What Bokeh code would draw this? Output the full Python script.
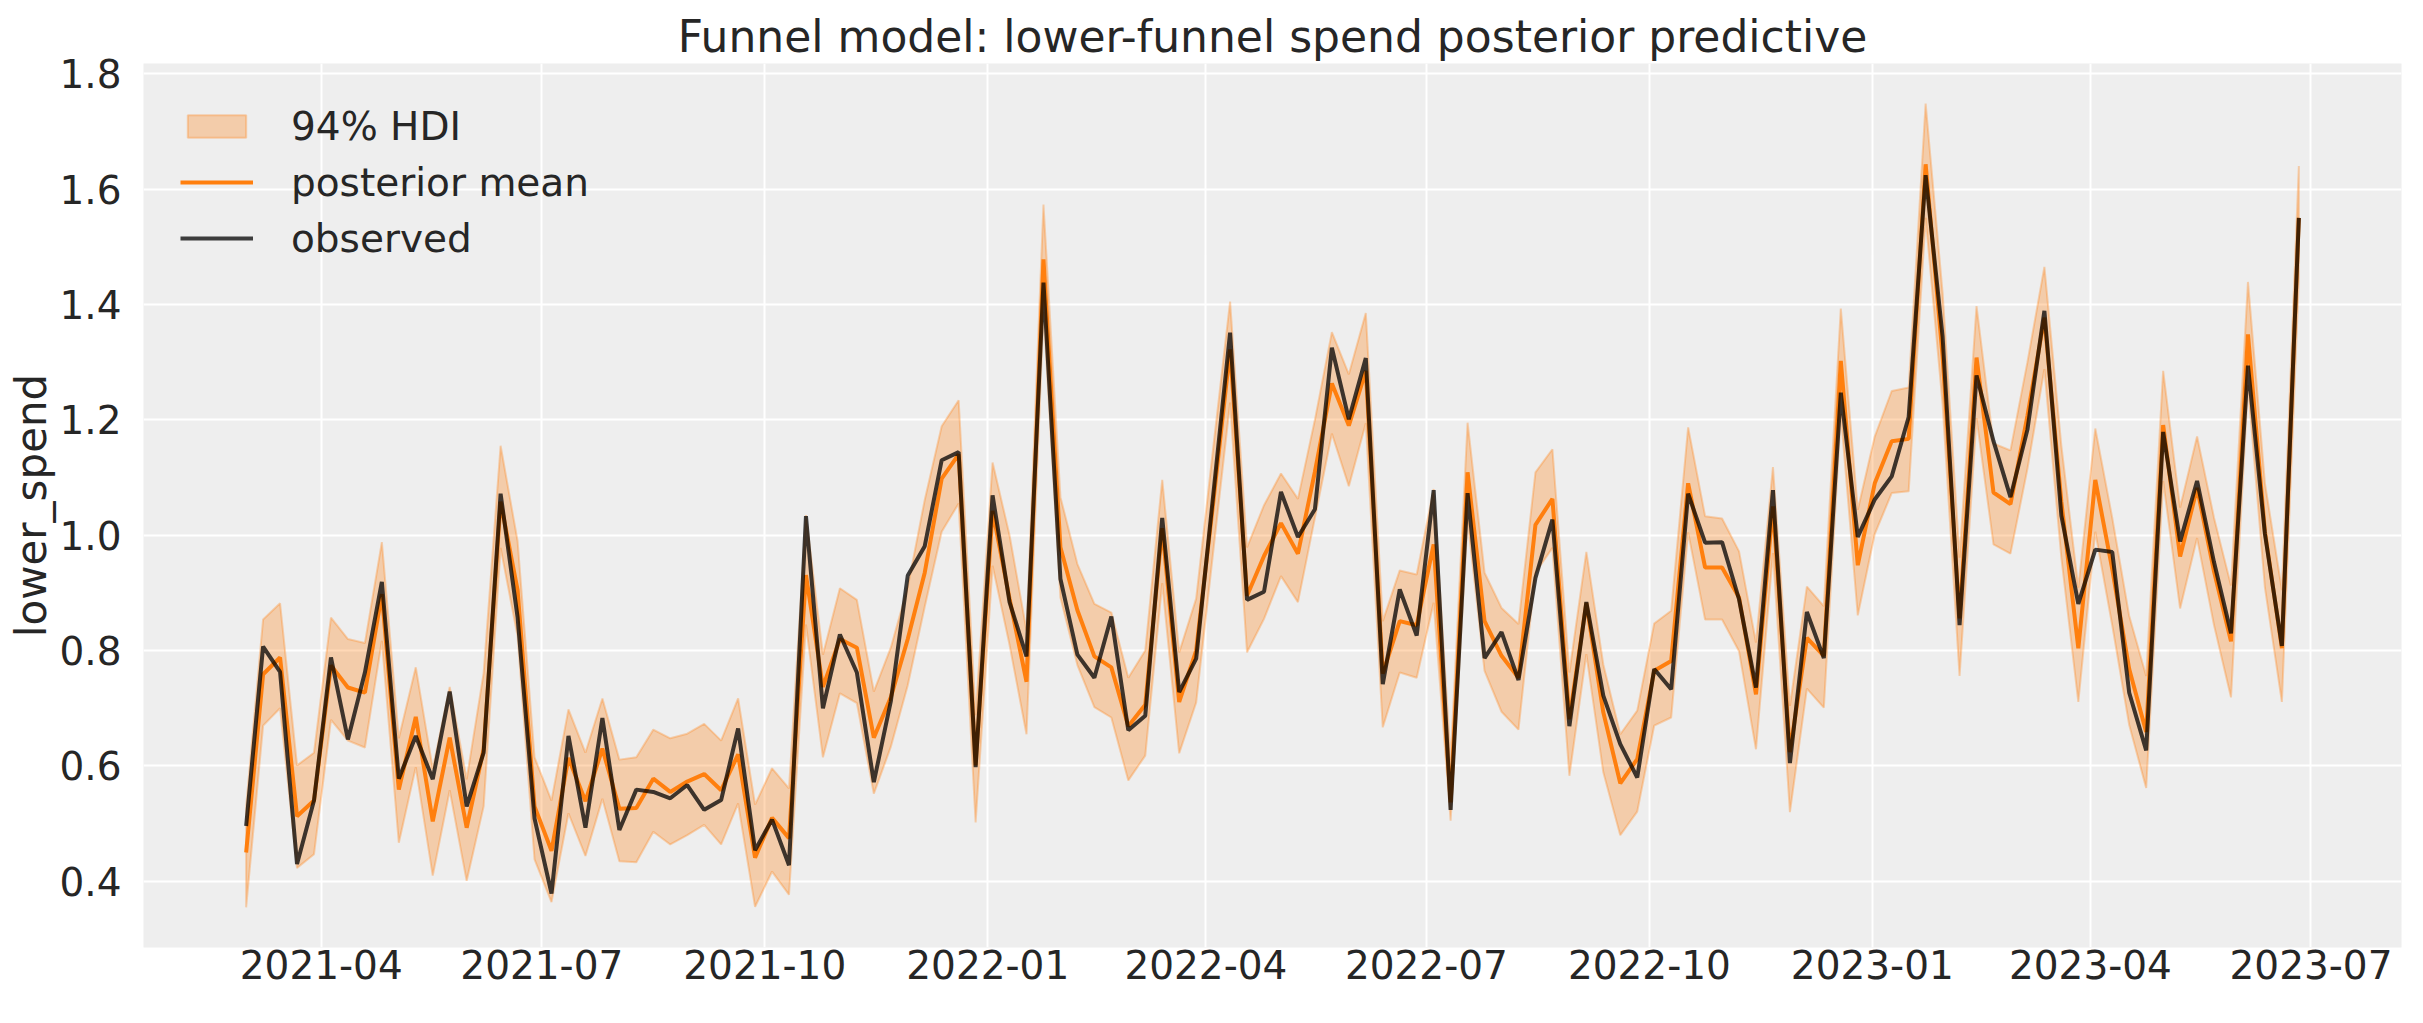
import pandas as pd
from bokeh.plotting import figure
from bokeh.models import (Range1d, MonthsTicker, DatetimeTickFormatter, FixedTicker,
                          NumeralTickFormatter, Legend, LegendItem, ColumnDataSource)
from bokeh.embed import file_html
from bokeh.resources import INLINE

# ---------------- data (weekly) ----------------
start_date = "2021-03-01"
n_weeks = 122
dates = pd.date_range(start_date, periods=n_weeks, freq="7D")

observed = [
    0.496, 0.807, 0.763, 0.430, 0.540, 0.788, 0.646, 0.762, 0.919, 0.578,
    0.652, 0.577, 0.729, 0.530, 0.623, 1.072, 0.858, 0.509, 0.379, 0.652,
    0.493, 0.683, 0.489, 0.559, 0.555, 0.544, 0.567, 0.524, 0.541, 0.665,
    0.454, 0.507, 0.428, 1.033, 0.700, 0.828, 0.762, 0.572, 0.712, 0.930,
    0.981, 1.130, 1.144, 0.598, 1.069, 0.884, 0.790, 1.438, 0.924, 0.793,
    0.753, 0.859, 0.662, 0.687, 1.030, 0.728, 0.786, 1.068, 1.351, 0.888,
    0.902, 1.075, 0.997, 1.045, 1.325, 1.201, 1.307, 0.742, 0.906, 0.826,
    1.078, 0.524, 1.073, 0.787, 0.832, 0.749, 0.926, 1.027, 0.669, 0.884,
    0.722, 0.638, 0.580, 0.768, 0.733, 1.072, 0.987, 0.988, 0.889, 0.736,
    1.078, 0.605, 0.867, 0.787, 1.247, 0.997, 1.062, 1.102, 1.205, 1.624,
    1.344, 0.844, 1.277, 1.163, 1.066, 1.183, 1.389, 1.034, 0.881, 0.975,
    0.971, 0.727, 0.627, 1.179, 0.989, 1.094, 0.953, 0.830, 1.294, 1.002,
    0.808, 1.550,
]

posterior_mean = [
    0.450, 0.759, 0.788, 0.513, 0.540, 0.774, 0.736, 0.727, 0.898, 0.559,
    0.685, 0.504, 0.649, 0.493, 0.629, 1.058, 0.905, 0.530, 0.453, 0.614,
    0.539, 0.630, 0.526, 0.527, 0.578, 0.555, 0.573, 0.586, 0.558, 0.620,
    0.441, 0.510, 0.475, 0.931, 0.737, 0.820, 0.805, 0.649, 0.719, 0.820,
    0.935, 1.098, 1.140, 0.601, 1.042, 0.890, 0.746, 1.478, 0.979, 0.870,
    0.790, 0.771, 0.669, 0.706, 1.012, 0.711, 0.800, 1.055, 1.322, 0.895,
    0.964, 1.021, 0.968, 1.110, 1.263, 1.190, 1.285, 0.760, 0.851, 0.844,
    0.984, 0.537, 1.109, 0.851, 0.791, 0.753, 1.018, 1.063, 0.681, 0.883,
    0.693, 0.570, 0.612, 0.765, 0.782, 1.090, 0.944, 0.944, 0.892, 0.724,
    1.050, 0.624, 0.822, 0.791, 1.302, 0.948, 1.090, 1.163, 1.167, 1.643,
    1.310, 0.856, 1.308, 1.074, 1.054, 1.207, 1.377, 1.058, 0.804, 1.096,
    0.941, 0.768, 0.659, 1.191, 0.963, 1.082, 0.937, 0.816, 1.348, 1.006,
    0.804, 1.550,
]

hdi_low = [
    0.355, 0.670, 0.700, 0.423, 0.447, 0.680, 0.644, 0.632, 0.817, 0.467,
    0.598, 0.410, 0.558, 0.401, 0.530, 0.978, 0.825, 0.438, 0.364, 0.518,
    0.444, 0.543, 0.435, 0.433, 0.486, 0.464, 0.480, 0.498, 0.464, 0.535,
    0.356, 0.417, 0.377, 0.845, 0.615, 0.726, 0.709, 0.552, 0.633, 0.740,
    0.876, 1.006, 1.055, 0.502, 0.947, 0.810, 0.655, 1.387, 0.892, 0.775,
    0.702, 0.684, 0.575, 0.618, 0.917, 0.622, 0.710, 0.970, 1.230, 0.797,
    0.855, 0.929, 0.884, 1.030, 1.176, 1.085, 1.194, 0.667, 0.762, 0.753,
    0.883, 0.505, 1.027, 0.765, 0.694, 0.663, 0.935, 0.978, 0.583, 0.794,
    0.589, 0.480, 0.521, 0.670, 0.684, 1.005, 0.854, 0.854, 0.799, 0.629,
    0.969, 0.520, 0.734, 0.701, 1.210, 0.861, 1.002, 1.073, 1.076, 1.550,
    1.227, 0.756, 1.203, 0.984, 0.968, 1.115, 1.288, 0.961, 0.711, 1.006,
    0.844, 0.671, 0.562, 1.094, 0.873, 0.995, 0.844, 0.719, 1.260, 0.909,
    0.711, 1.445,
]

hdi_high = [
    0.530, 0.854, 0.882, 0.601, 0.623, 0.857, 0.820, 0.813, 0.988, 0.648,
    0.771, 0.595, 0.737, 0.577, 0.761, 1.155, 0.990, 0.615, 0.540, 0.698,
    0.623, 0.717, 0.611, 0.615, 0.663, 0.648, 0.656, 0.673, 0.644, 0.717,
    0.533, 0.596, 0.561, 1.035, 0.793, 0.908, 0.888, 0.729, 0.805, 0.910,
    1.061, 1.189, 1.234, 0.688, 1.126, 1.000, 0.835, 1.573, 1.066, 0.950,
    0.881, 0.866, 0.753, 0.800, 1.096, 0.797, 0.890, 1.150, 1.405, 0.979,
    1.052, 1.107, 1.063, 1.200, 1.352, 1.279, 1.385, 0.851, 0.939, 0.932,
    1.080, 0.610, 1.195, 0.935, 0.874, 0.846, 1.109, 1.149, 0.762, 0.971,
    0.776, 0.655, 0.696, 0.847, 0.869, 1.187, 1.033, 1.029, 0.972, 0.814,
    1.118, 0.704, 0.911, 0.877, 1.393, 1.044, 1.171, 1.250, 1.256, 1.748,
    1.420, 0.961, 1.397, 1.159, 1.147, 1.300, 1.465, 1.155, 0.909, 1.185,
    1.030, 0.860, 0.756, 1.285, 1.048, 1.171, 1.030, 0.913, 1.439, 1.090,
    0.905, 1.640,
]

y_ticks = [0.4, 0.6, 0.8, 1.0, 1.2, 1.4, 1.6, 1.8]
x_tick_months = [0, 3, 6, 9]  # Jan, Apr, Jul, Oct (0-based)

title_text = "Funnel model: lower-funnel spend posterior predictive"
y_label = "lower_spend"
legend_labels = ["94% HDI", "posterior mean", "observed"]

# ---------------- styling ----------------
ORANGE = "#ff7f0e"
TEXT = "#262626"
FONT = "DejaVu Sans"

# ranges with matplotlib-like 5% margins
span = dates[-1] - dates[0]
x_start = dates[0] - 0.05 * span
x_end = dates[-1] + 0.05 * span
ymin, ymax = min(hdi_low), max(hdi_high)
ypad = 0.05 * (ymax - ymin)

p = figure(width=2407, height=1005, x_axis_type="datetime",
           output_backend="svg", toolbar_location=None,
           x_range=Range1d(x_start, x_end),
           y_range=Range1d(ymin - ypad, ymax + ypad),
           min_border_left=143, min_border_right=6,
           min_border_top=63, min_border_bottom=58,
           background_fill_color="#eeeeee", border_fill_color="white",
           outline_line_color=None)

p.title.text = title_text
p.title.text_font = FONT
p.title.text_font_size = "44px"
p.title.text_font_style = "normal"
p.title.text_color = TEXT
p.title.align = "center"
p.title.standoff = 3

# band polygon (upper edge forward, lower edge backward)
band_x = list(dates) + list(dates[::-1])
band_y = list(hdi_high) + list(hdi_low[::-1])
band = p.patch(band_x, band_y, fill_color=ORANGE, fill_alpha=0.3,
               line_color=ORANGE, line_alpha=0.3, line_width=2)

src = ColumnDataSource(dict(date=dates, mean=posterior_mean, obs=observed))
mean_r = p.line("date", "mean", source=src, line_color=ORANGE, line_width=4)
obs_r = p.line("date", "obs", source=src, line_color="black", line_alpha=0.75,
               line_width=4)

# axes
for ax in (p.xaxis[0], p.yaxis[0]):
    ax.axis_line_color = None
    ax.major_tick_line_color = None
    ax.minor_tick_line_color = None
    ax.major_tick_out = 0
    ax.major_tick_in = 0
    ax.minor_tick_out = 0
    ax.minor_tick_in = 0
    ax.major_label_text_font = FONT
    ax.major_label_text_font_size = "39px"
    ax.major_label_text_color = TEXT

p.xaxis.major_label_standoff = 2
p.yaxis.major_label_standoff = 22

p.xaxis.ticker = MonthsTicker(months=x_tick_months)
p.xaxis.formatter = DatetimeTickFormatter(months="%Y-%m", days="%Y-%m",
                                          years="%Y-%m")
p.yaxis.ticker = FixedTicker(ticks=y_ticks)
p.yaxis.formatter = NumeralTickFormatter(format="0.0")
p.yaxis.axis_label = y_label
p.yaxis.axis_label_text_font = FONT
p.yaxis.axis_label_text_font_size = "42px"
p.yaxis.axis_label_text_font_style = "normal"
p.yaxis.axis_label_text_color = TEXT
p.yaxis.axis_label_standoff = 0

p.xgrid.grid_line_color = "white"
p.xgrid.grid_line_width = 2
p.ygrid.grid_line_color = "white"
p.ygrid.grid_line_width = 2

legend = Legend(items=[LegendItem(label=legend_labels[0], renderers=[band]),
                       LegendItem(label=legend_labels[1], renderers=[mean_r]),
                       LegendItem(label=legend_labels[2], renderers=[obs_r])],
                location=(37, 686), orientation="vertical",
                border_line_color=None, background_fill_alpha=0.0,
                label_text_font=FONT, label_text_font_size="39px",
                label_text_color=TEXT, glyph_width=73, glyph_height=28,
                label_standoff=38, spacing=10, padding=0, margin=0,
                label_height=46)
p.add_layout(legend)

open("out.html", "w").write(file_html(p, INLINE))
